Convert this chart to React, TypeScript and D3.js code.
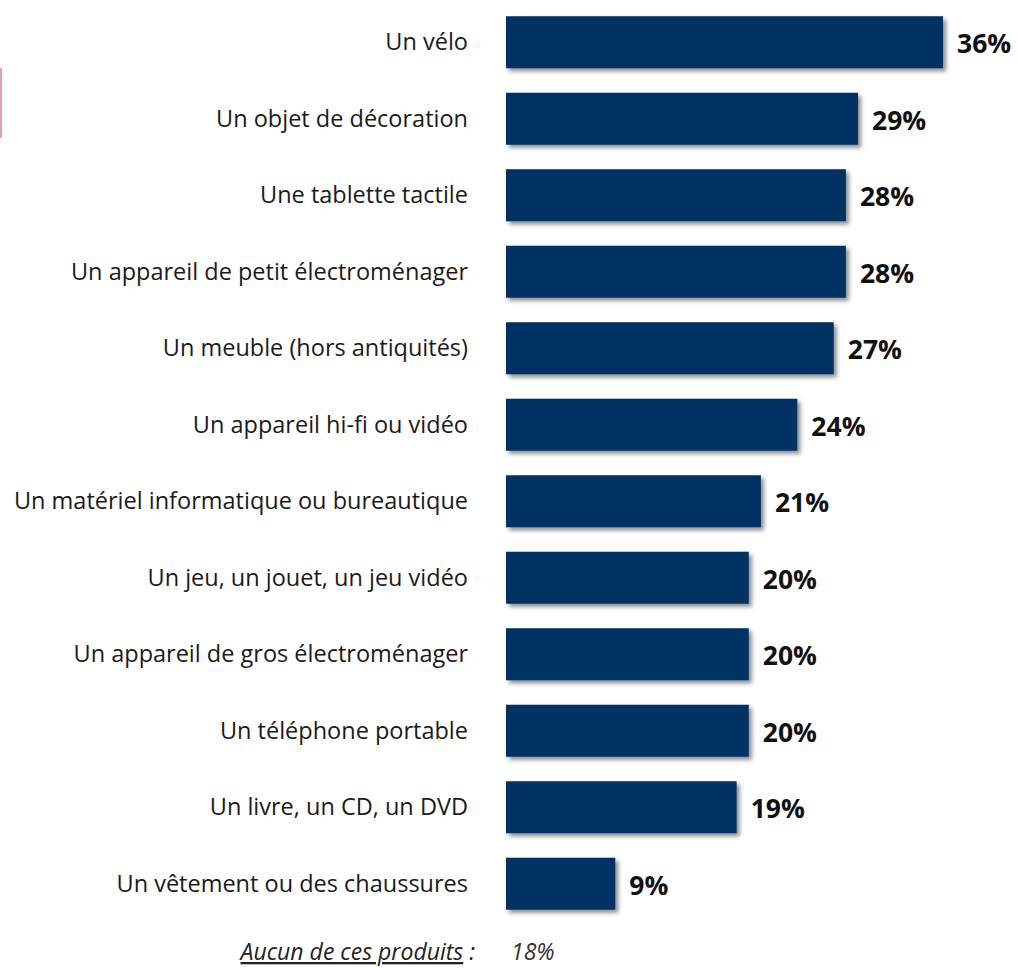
import React from "react";
import * as d3 from "d3";

const categories = [
  "Un vélo",
  "Un objet de décoration",
  "Une tablette tactile",
  "Un appareil de petit électroménager",
  "Un meuble (hors antiquités)",
  "Un appareil hi-fi ou vidéo",
  "Un matériel informatique ou bureautique",
  "Un jeu, un jouet, un jeu vidéo",
  "Un appareil de gros électroménager",
  "Un téléphone portable",
  "Un livre, un CD, un DVD",
  "Un vêtement ou des chaussures",
];
const values = [36, 29, 28, 28, 27, 24, 21, 20, 20, 20, 19, 9];
const noneLabel = "Aucun de ces produits";
const noneValue = 18;

const W = 1017;
const H = 968;
const FONT = "'Open Sans', 'DejaVu Sans', sans-serif";

export default function App() {
  const x = d3.scaleLinear().domain([0, 36]).range([506, 943]);
  const y = d3
    .scaleBand<string>()
    .domain(categories)
    .range([4, 922])
    .paddingInner(0.32)
    .paddingOuter(0.16);

  return (
    <svg
      width={W}
      height={H}
      style={{ position: "absolute", left: 0, top: 0, background: "#fff" }}
    >
      <defs>
        <filter id="shadow" x="-10%" y="-20%" width="130%" height="160%">
          <feDropShadow dx="3" dy="3" stdDeviation="2" floodColor="#000" floodOpacity="0.45" />
        </filter>
      </defs>
      <rect x={0} y={68} width={2} height={70} fill="#e8a0a8" />
      {categories.map((c, i) => {
        const yy = y(c)!;
        const bh = y.bandwidth();
        const cy = yy + bh / 2;
        return (
          <g key={c}>
            <rect
              x={x(0)}
              y={yy}
              width={x(values[i]) - x(0)}
              height={bh}
              fill="#023363"
              filter="url(#shadow)"
            />
            <text
              x={468}
              y={cy + 8}
              textAnchor="end"
              fontFamily={FONT}
              fontSize={23.5}
              fill="#1a1a1a"
            >
              {c}
            </text>
            <text
              x={x(values[i]) + 14}
              y={cy + 11}
              fontFamily={FONT}
              fontSize={26.5}
              fontWeight="bold"
              fill="#111"
            >
              {values[i]}%
            </text>
          </g>
        );
      })}
      <text
        x={475}
        y={960}
        textAnchor="end"
        fontFamily={FONT}
        fontSize={23}
        fontStyle="italic"
        fill="#222"
      >
        <tspan style={{ textDecoration: "underline" }}>{noneLabel}</tspan>
        <tspan> :</tspan>
      </text>
      <text
        x={511}
        y={960}
        fontFamily={FONT}
        fontSize={23}
        fontStyle="italic"
        fill="#333"
      >
        {noneValue}%
      </text>
    </svg>
  );
}
